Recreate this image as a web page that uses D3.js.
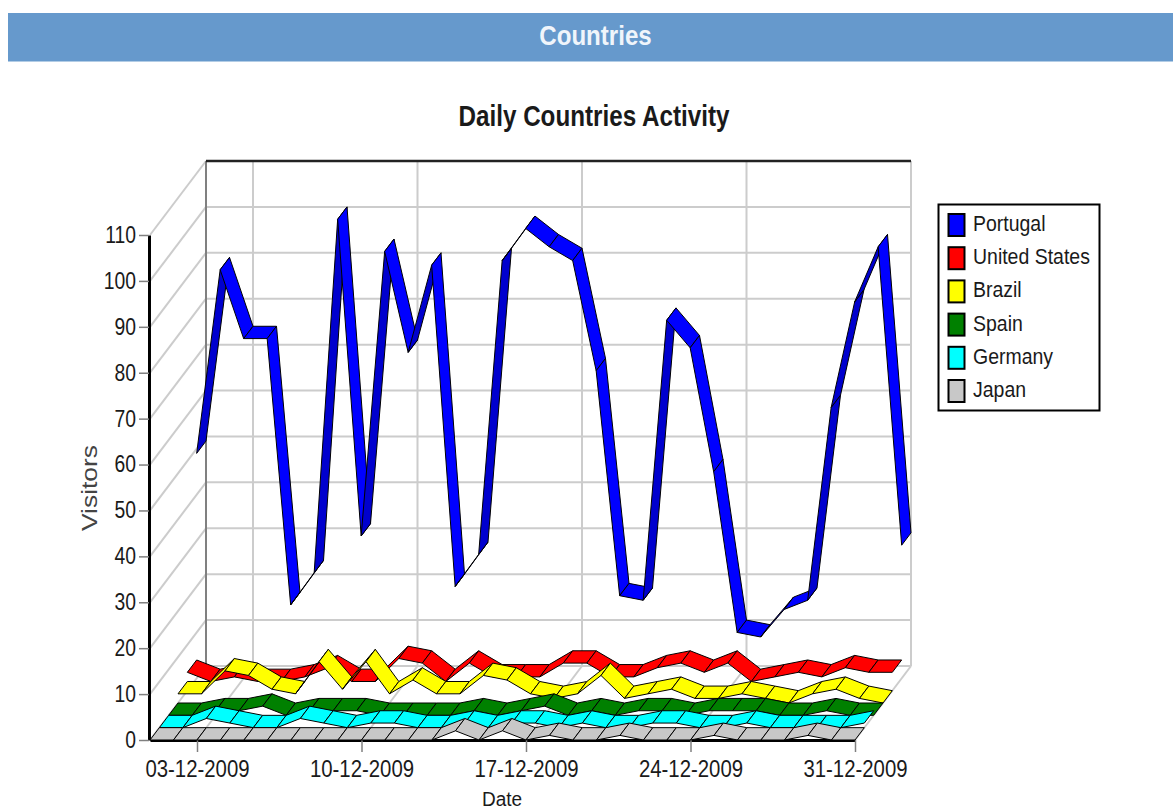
<!DOCTYPE html>
<html>
<head>
<meta charset="utf-8">
<script src="https://cdn.jsdelivr.net/npm/d3@7"></script>
<style>
  body { margin: 0; background: #fff; }
  text { font-family: "Liberation Sans", Arial, sans-serif; fill: #1a1a1a; }
</style>
</head>
<body>
<div id="chart"></div>
<script>
// days of the month, one point per day
var days = d3.range(1, 32).map(d => (d < 10 ? "0" + d : "" + d) + "-12-2009");
var dayTicks = ["03-12-2009", "10-12-2009", "17-12-2009", "24-12-2009", "31-12-2009"];
var visitorTicks = [0, 10, 20, 30, 40, 50, 60, 70, 80, 90, 100, 110];

var countries = ["Portugal", "United States", "Brazil", "Spain", "Germany", "Japan"];
var colors = ["#0000ff", "#ff0000", "#ffff00", "#008000", "#00ffff", "#c8c8c8"];

var portugal = [49, 89, 74, 74, 16, 23, 100, 31, 93, 71, 90, 20, 27, 91, 98, 94, 91, 67, 18, 17, 78, 72, 45, 10, 9, 15, 17, 59, 82, 94, 29];
var unitedStates = [4, 2, 3, 2, 2, 3, 5, 2, 2, 7, 6, 2, 6, 3, 3, 3, 6, 6, 3, 3, 5, 6, 4, 6, 2, 3, 4, 3, 5, 4, 4];
var brazil = [2, 2, 7, 6, 3, 2, 9, 3, 9, 2, 5, 2, 2, 6, 5, 2, 1, 2, 6, 1, 2, 3, 1, 1, 2, 1, 0, 2, 3, 1, 0];
var spain = [0, 0, 1, 1, 2, 0, 1, 1, 1, 0, 0, 0, 0, 1, 0, 1, 2, 0, 1, 0, 1, 1, 0, 1, 1, 1, 0, 0, 1, 0, 0];
var germany = [0, 0, 2, 1, 0, 0, 2, 1, 0, 1, 1, 0, 0, 1, 0, 1, 1, 0, 1, 0, 0, 1, 1, 0, 0, 1, 0, 0, 0, 0, 1];
var japan = [0, 0, 0, 0, 0, 0, 0, 0, 0, 0, 0, 0, 0, 2, 0, 2, 0, 1, 0, 0, 1, 0, 0, 0, 1, 0, 0, 0, 1, 0, 0];
var seriesValues = [portugal, unitedStates, brazil, spain, germany, japan];

var svgWidth = 1173;
var svgHeight = 812;

var svg = d3.select("#chart")
  .append("svg")
  .attr("width", svgWidth)
  .attr("height", svgHeight);

// the source picture is stretched upwards, so text is set larger and squeezed back
function squeeze(sel, k) {
  sel.each(function() {
    d3.select(this)
      .attr("textLength", this.getComputedTextLength() * k)
      .attr("lengthAdjust", "spacingAndGlyphs");
  });
}

// header band
svg.append("rect")
  .attr("x", 8).attr("y", 13)
  .attr("width", svgWidth - 8).attr("height", 48.5)
  .attr("fill", "#6699cc");

svg.append("text")
  .attr("x", 595.5).attr("y", 45)
  .attr("text-anchor", "middle")
  .attr("font-size", "28px")
  .attr("font-weight", "bold")
  .style("fill", "#f0f5fb")
  .text("Countries")
  .call(squeeze, 0.86);

svg.append("text")
  .attr("x", 594).attr("y", 126)
  .attr("text-anchor", "middle")
  .attr("font-size", "29px")
  .attr("font-weight", "bold")
  .text("Daily Countries Activity")
  .call(squeeze, 0.835);

var xScale = d3.scalePoint().domain(days).range([150, 855]);
var yScale = d3.scaleLinear().domain([0, 110]).range([740, 235]);

// depth of the 3d box: one slot per series, japan in front
var depthX = d3.scaleLinear().domain([0, countries.length]).range([0, 56]);
var depthY = d3.scaleLinear().domain([0, countries.length]).range([0, -74]);
var backDepth = countries.length;

function px(day, slot) { return xScale(day) + depthX(slot); }
function py(value, slot) { return yScale(value) + depthY(slot); }

var walls = svg.append("g").attr("fill", "none");
var gridColor = "#cccccc";

// back wall and left wall grid
visitorTicks.forEach(function(v) {
  walls.append("line")
    .attr("x1", px(days[0], backDepth)).attr("y1", py(v, backDepth))
    .attr("x2", px(days[30], backDepth)).attr("y2", py(v, backDepth))
    .attr("stroke", gridColor).attr("stroke-width", 2);
  walls.append("line")
    .attr("x1", px(days[0], 0)).attr("y1", py(v, 0))
    .attr("x2", px(days[0], backDepth)).attr("y2", py(v, backDepth))
    .attr("stroke", gridColor).attr("stroke-width", 2);
});

// verticals on the back wall, diagonals on the floor
dayTicks.forEach(function(d) {
  walls.append("line")
    .attr("x1", px(d, backDepth)).attr("y1", py(0, backDepth))
    .attr("x2", px(d, backDepth)).attr("y2", py(110, backDepth))
    .attr("stroke", gridColor).attr("stroke-width", 2);
  walls.append("line")
    .attr("x1", px(d, 0)).attr("y1", py(0, 0))
    .attr("x2", px(d, backDepth)).attr("y2", py(0, backDepth))
    .attr("stroke", gridColor).attr("stroke-width", 2);
});

// back left corner and top edge
walls.append("line")
  .attr("x1", px(days[0], backDepth)).attr("y1", py(0, backDepth))
  .attr("x2", px(days[0], backDepth)).attr("y2", py(110, backDepth))
  .attr("stroke", "#808080").attr("stroke-width", 2);
walls.append("line")
  .attr("x1", px(days[0], backDepth)).attr("y1", py(110, backDepth))
  .attr("x2", px(days[30], backDepth)).attr("y2", py(110, backDepth))
  .attr("stroke", "#222").attr("stroke-width", 2.5);

// axes
var bottomAxis = d3.axisBottom(xScale).tickValues(dayTicks).tickSize(12).tickSizeOuter(0).tickPadding(9);
var leftAxis = d3.axisLeft(yScale).tickValues(visitorTicks).tickSize(10).tickSizeOuter(0).tickPadding(3);

var xAxis = svg.append("g")
  .attr("transform", `translate(0, ${yScale(0)})`)
  .call(bottomAxis);
xAxis.select(".domain").attr("stroke", "#000").attr("stroke-width", 3);
xAxis.selectAll("line").attr("stroke", "#808080").attr("stroke-width", 1.5);
xAxis.selectAll("text").attr("font-size", "23px").call(squeeze, 0.885);

var yAxis = svg.append("g")
  .attr("transform", `translate(${xScale(days[0]) - 1}, 0)`)
  .call(leftAxis);
yAxis.select(".domain").attr("stroke", "#000").attr("stroke-width", 3);
yAxis.selectAll("line").attr("stroke", "#808080").attr("stroke-width", 1.5);
yAxis.selectAll("text").attr("font-size", "23px").call(squeeze, 0.84);

svg.append("text")
  .attr("x", 502).attr("y", 806)
  .attr("text-anchor", "middle")
  .attr("font-size", "20px")
  .text("Date")
  .call(squeeze, 0.95);

svg.append("text")
  .attr("transform", "translate(97, 488) rotate(-90)")
  .attr("text-anchor", "middle")
  .attr("font-size", "22px")
  .style("fill", "#444")
  .text("Visitors")
  .call(squeeze, 1.2);

// ribbons, from the back slot to the front one
var ribbons = svg.append("g");
countries.forEach(function(name, s) {
  var slot = countries.length - 1 - s;
  var values = seriesValues[s];
  var steep = d3.color(colors[s]).darker(0.6).formatHex();
  for (var i = 0; i < days.length - 1; i++) {
    var pts = [
      [px(days[i], slot), py(values[i], slot)],
      [px(days[i + 1], slot), py(values[i + 1], slot)],
      [px(days[i + 1], slot + 1), py(values[i + 1], slot + 1)],
      [px(days[i], slot + 1), py(values[i], slot + 1)]
    ];
    // only the long climbs show the darker underside
    ribbons.append("polygon")
      .attr("points", pts.map(p => p.join(",")).join(" "))
      .attr("fill", values[i + 1] - values[i] >= 10 ? steep : colors[s])
      .attr("stroke", "#000")
      .attr("stroke-width", 1)
      .attr("stroke-linejoin", "round");
  }
});

// legend
var legend = svg.append("g");
legend.append("rect")
  .attr("x", 938.5).attr("y", 204.5)
  .attr("width", 161).attr("height", 206)
  .attr("fill", "#fff").attr("stroke", "#000").attr("stroke-width", 2);

var legendRow = d3.scalePoint().domain(countries).range([225, 391]);
countries.forEach(function(name, s) {
  legend.append("rect")
    .attr("x", 948.5).attr("y", legendRow(name) - 11)
    .attr("width", 16).attr("height", 22)
    .attr("fill", colors[s]).attr("stroke", "#000").attr("stroke-width", 2);
  legend.append("text")
    .attr("x", 973).attr("y", legendRow(name) + 6)
    .attr("font-size", "22px")
    .text(name)
    .call(squeeze, 0.885);
});
</script>
</body>
</html>
